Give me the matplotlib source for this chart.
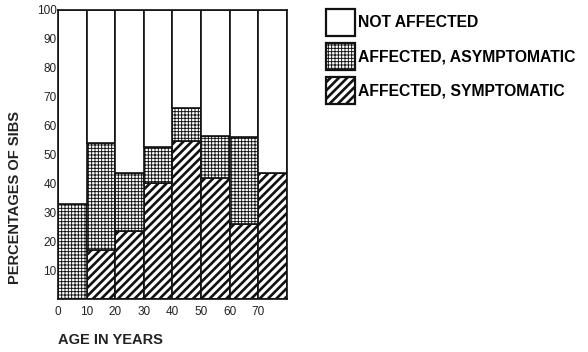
import numpy as np
import matplotlib
matplotlib.use("Agg")
import matplotlib.pyplot as plt

AGE_STARTS = [0, 10, 20, 30, 40, 50, 60, 70]
SYMPTOMATIC = [0, 17, 23.5, 40, 54.5, 42, 26, 43.5]
ASYMPTOMATIC = [33, 37, 20, 12.5, 11.5, 14.5, 30, 0]
XTICKS = [0, 10, 20, 30, 40, 50, 60, 70]
YTICKS = [10, 20, 30, 40, 50, 60, 70, 80, 90, 100]
LABELS = ["NOT AFFECTED", "AFFECTED, ASYMPTOMATIC", "AFFECTED, SYMPTOMATIC"]

SYM_LW = 1.9
ASYM_LW = 0.65

plt.rcParams["font.family"] = ["Liberation Sans", "DejaVu Sans"]
plt.rcParams["hatch.color"] = "#111111"

sym = np.array(SYMPTOMATIC)
asym = np.array(ASYMPTOMATIC)
not_aff = 100 - sym - asym


def set_hatch_lw(patches, lw):
    for p in patches:
        if hasattr(p, "set_hatch_linewidth"):
            p.set_hatch_linewidth(lw)


fig = plt.figure(figsize=(5.88, 3.52), dpi=100)
ax = fig.add_axes([0.0986, 0.1506, 0.3895, 0.821])

common = dict(width=10, align="edge", edgecolor="#111111", linewidth=1.2)
with plt.rc_context({"hatch.linewidth": SYM_LW}):
    b_sym = ax.bar(AGE_STARTS, sym, color="white", hatch="////", **common)
with plt.rc_context({"hatch.linewidth": ASYM_LW}):
    b_asym = ax.bar(AGE_STARTS, asym, bottom=sym, color="white",
                    hatch="+++++", **common)
b_not = ax.bar(AGE_STARTS, not_aff, bottom=sym + asym, color="white", **common)
set_hatch_lw(b_sym, SYM_LW)
set_hatch_lw(b_asym, ASYM_LW)

ax.set_xlim(0, 80)
ax.set_ylim(0, 100)
ax.set_xticks(XTICKS)
ax.set_yticks(YTICKS)
ax.tick_params(length=0, labelsize=8.5, colors="#222222")
ax.tick_params(axis="x", pad=5)
ax.tick_params(axis="y", pad=1)
for s in ax.spines.values():
    s.set_linewidth(1.2)
    s.set_color("#111111")

fig.text(0.026, 0.44, "PERCENTAGES OF SIBS", rotation=90, ha="center",
         va="center", fontsize=10.5, fontweight="bold", color="#222222")
fig.text(0.0986, 0.035, "AGE IN YEARS", ha="left", va="center",
         fontsize=10.5, fontweight="bold", color="#222222")

with plt.rc_context({"hatch.linewidth": ASYM_LW}):
    leg = fig.legend([b_not[0], b_asym[0], b_sym[0]], LABELS,
                     loc="upper left", bbox_to_anchor=(0.554, 0.975),
                     frameon=False, handlelength=1.85,
                     handleheight=2.27, labelspacing=0.45, handletextpad=0.2,
                     borderpad=0, borderaxespad=0,
                     prop={"weight": "bold", "size": 11.3})
hp = leg.get_patches()
for p in hp:
    p.set_linewidth(1.6)
set_hatch_lw([hp[1]], ASYM_LW)
set_hatch_lw([hp[2]], SYM_LW)

fig.savefig("out.png", dpi=100)
